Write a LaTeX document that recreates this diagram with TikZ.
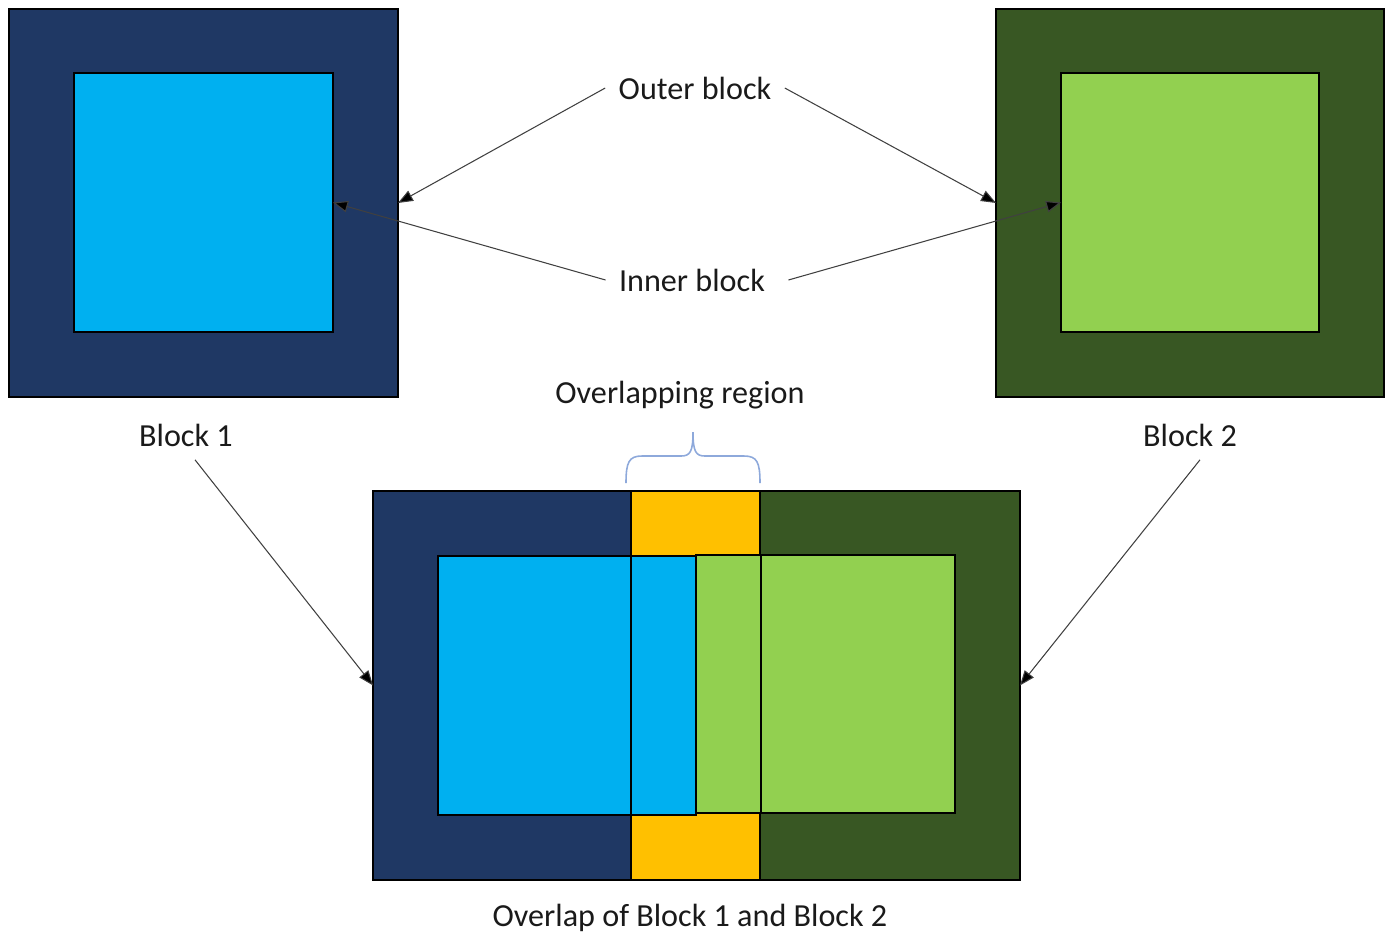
\documentclass[tikz,border=0pt]{standalone}
\usepackage{fontspec}
\setmainfont{Carlito}
\usetikzlibrary{arrows.meta}
\definecolor{navy}{HTML}{1F3864}
\definecolor{skyblue}{HTML}{00B0F0}
\definecolor{darkgreen}{HTML}{385723}
\definecolor{lightgreen}{HTML}{92D050}
\definecolor{amber}{HTML}{FFC000}
\definecolor{bracecol}{HTML}{8EA9DB}
\definecolor{textcol}{HTML}{1A1A1A}
\tikzset{
  block/.style={draw=black, line width=0.8pt, inner sep=0pt, outer sep=0pt},
  label/.style={text=textcol, inner sep=7.5pt, font=\fontsize{18.3}{22}\selectfont},
  pointer/.style={draw=black!75, line width=0.6pt, -{Triangle[length=8.5pt, width=6.5pt, fill=black]}}
}
\begin{document}
\begin{tikzpicture}[x=0.02cm, y=-0.02cm]
                \useasboundingbox (0, 0) rectangle (1386, 934);

                \node (outer1) at (203.5, 203) [block, fill=navy, minimum width=7.78cm, minimum height=7.76cm] {};
                \node (inner1) at (203.5, 202.5) [block, fill=skyblue, minimum width=5.18cm, minimum height=5.18cm] {};
                \node (outer2) at (1190, 203) [block, fill=darkgreen, minimum width=7.76cm, minimum height=7.76cm] {};
                \node (inner2) at (1190, 202.5) [block, fill=lightgreen, minimum width=5.16cm, minimum height=5.18cm] {};

                \node (left) at (502, 685.5) [block, fill=navy, minimum width=5.16cm, minimum height=7.78cm] {};
                \node (right) at (890, 685.5) [block, fill=darkgreen, minimum width=5.2cm, minimum height=7.78cm] {};
                \node (mid) at (695.5, 685.5) [block, fill=amber, minimum width=2.58cm, minimum height=7.78cm] {};
                \node (blueA) at (534.5, 685.5) [block, fill=skyblue, minimum width=3.86cm, minimum height=5.18cm] {};
                \node (greenA) at (728.5, 684) [block, fill=lightgreen, minimum width=1.3cm, minimum height=5.16cm] {};
                \node (greenB) at (858, 684) [block, fill=lightgreen, minimum width=3.88cm, minimum height=5.16cm] {};
                \node (blueB) at (663.5, 685.5) [block, fill=skyblue, minimum width=1.3cm, minimum height=5.18cm] {};
                \node (overlap) at (696.5, 685.5) [block, minimum width=12.94cm, minimum height=7.78cm] {};

                \node (outerlbl) at (695, 88) [label] {Outer block};
                \node (innerlbl) at (692, 280) [label] {Inner block};
                \node (regionlbl) at (680, 395) [label] {Overlapping region};
                \node (b1) at (186, 435) [label] {Block 1};
                \node (b2) at (1190, 435) [label] {Block 2};
                \node (caption) at (690, 918) [label] {Overlap of Block 1 and Block 2};

                \draw[pointer] (outerlbl.west) -- (outer1.east);
                \draw[pointer] (outerlbl.east) -- (outer2.west);
                \draw[pointer] (innerlbl.west) -- (inner1.east);
                \draw[pointer] ([xshift=0.2cm]innerlbl.east) -- (inner2.west);
                \draw[pointer] ([xshift=0.18cm]b1.south) -- (overlap.west);
                \draw[pointer] ([xshift=0.2cm]b2.south) -- (overlap.east);

                \coordinate (braceL) at (626, 483);
                \coordinate (braceR) at (760, 483);
                \coordinate (braceT) at (693, 432);
                \draw[bracecol, line width=0.9pt] (braceL) .. controls (626, 462) and (629, 456) .. (642, 456)
                    -- (681, 456) .. controls (690, 456) and (693, 452) .. (braceT)
                    .. controls (693, 452) and (696, 456) .. (705, 456)
                    -- (744, 456) .. controls (757, 456) and (760, 462) .. (braceR);
            \end{tikzpicture}
\end{document}
